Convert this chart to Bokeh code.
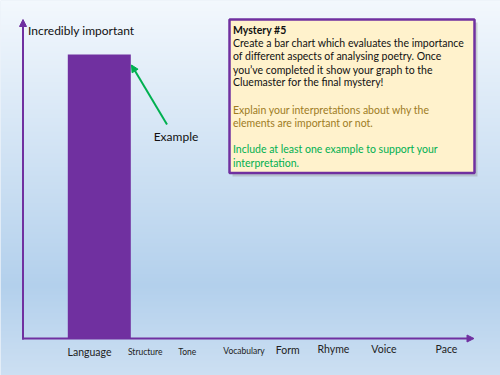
import numpy as np
from bokeh.plotting import figure
from bokeh.models import Range1d, Arrow, NormalHead
from bokeh.embed import file_html
from bokeh.resources import INLINE
from bokeh.core.properties import value

# ---------------- data ----------------
categories = ["Language", "Structure", "Tone", "Vocabulary", "Form", "Rhyme", "Voice", "Pace"]
importance = [1.0, 0, 0, 0, 0, 0, 0, 0]
y_title = "Incredibly important"
callout = "Example"
box_title = "Mystery #5"
box_black = [
    "Create a bar chart which evaluates the importance",
    "of different aspects of analysing poetry. Once",
    "you\u2019ve completed it show your graph to the",
    "Cluemaster for the final  mystery!",
]
box_olive = [
    "Explain your interpretations about why the",
    "elements  are important or not.",
]
box_green = [
    "Include at least one example to support your",
    "interpretation.",
]

# ---------------- layout (pixels) ----------------
W, H = 500, 375
Y0, Y1 = 338.0, 54.0          # pixel rows of value 0 and value 1
def py(pix):
    return (Y0 - pix) / (Y0 - Y1)

bar_x = [98.8, 144.7, 186.7, 243.5, 287.2, 333.0, 383.5, 446.0]
bar_w = 63
label_x = [89.0, 144.7, 186.7, 243.5, 287.2, 333.0, 383.5, 446.0]
label_y = [351, 351.5, 351.5, 350.5, 349, 348, 348, 348]
label_size = ["10.5px", "8.5px", "8.5px", "8.5px", "10.5px", "10.5px", "10.5px", "10.5px"]

PURPLE = "#7030A0"
GREEN = "#00B050"
OLIVE = "#9E7C1F"
FONT = value("Lato")

p = figure(width=W, height=H, x_range=Range1d(0, W), y_range=Range1d(py(H), py(0)),
           output_backend="svg", toolbar_location=None, min_border=0)
p.axis.visible = False
p.grid.visible = False
p.outline_line_color = None
p.background_fill_color = "#DCE8F5"
p.border_fill_color = "#DCE8F5"

# background gradient
stops = [(0, (243, 248, 253)), (285, (179, 208, 236)), (375, (204, 223, 242))]
img = np.empty((H, 1), dtype=np.uint32)
view = img.view(dtype=np.uint8).reshape((H, 1, 4))
for i in range(H):
    yy = H - i - 0.5
    for (a, ca), (b, cb) in zip(stops[:-1], stops[1:]):
        if a <= yy <= b:
            t = (yy - a) / (b - a)
            c = [int(round(ca[k] + (cb[k] - ca[k]) * t)) for k in range(3)]
            break
    view[i, 0, :] = [c[0], c[1], c[2], 255]
p.image_rgba(image=[img], x=0, y=py(H), dw=W, dh=py(0) - py(H))

# bars
p.vbar(x=bar_x, top=importance, bottom=0, width=bar_w, fill_color=PURPLE, line_color=None)

# axes with arrows
p.add_layout(Arrow(end=NormalHead(size=7, fill_color=PURPLE, line_color=PURPLE, line_width=1),
                   x_start=22.5, y_start=py(339), x_end=22.5, y_end=py(19),
                   line_color=PURPLE, line_width=2))
p.add_layout(Arrow(end=NormalHead(size=7, fill_color=PURPLE, line_color=PURPLE, line_width=1),
                   x_start=21.5, y_start=0, x_end=473.5, y_end=0,
                   line_color=PURPLE, line_width=2))

# category labels
p.text(x=label_x, y=[py(v) for v in label_y], text=categories, text_align="center",
       text_baseline="middle", text_font=FONT, text_font_size=label_size, text_color="#222222")

# y title
p.text(x=[27.5], y=[py(29.5)], text=[y_title], text_align="left", text_baseline="middle",
       text_font=FONT, text_font_size="12px", text_color="#111111")

# callout arrow
p.add_layout(Arrow(end=NormalHead(size=7, fill_color=GREEN, line_color=GREEN, line_width=1),
                   x_start=166.5, y_start=py(124), x_end=131, y_end=py(64.5),
                   line_color=GREEN, line_width=2))
p.text(x=[175.5], y=[py(135.5)], text=[callout], text_align="center", text_baseline="middle",
       text_font=FONT, text_font_size="12px", text_color="#111111")

# text box with shadow
p.quad(left=[232], right=[477], top=[py(22)], bottom=[py(176)], fill_color="#8a8a8a",
       fill_alpha=0.35, line_color=None)
p.quad(left=[229], right=[474], top=[py(19)], bottom=[py(172.5)], fill_color="#FFF2CC",
       line_color=PURPLE, line_width=2.5)

tx = 232.5
FS = "10.5px"
p.text(x=[tx], y=[py(29.5)], text=[box_title], text_baseline="middle", text_font=FONT,
       text_font_size=FS, text_font_style="bold", text_color="#111111")
p.text(x=[tx] * 4, y=[py(v) for v in [42.8, 55.5, 69, 81.8]], text=box_black,
       text_baseline="middle", text_font=FONT, text_font_size=FS, text_color="#111111")
p.text(x=[tx] * 2, y=[py(v) for v in [109.3, 122]], text=box_olive,
       text_baseline="middle", text_font=FONT, text_font_size=FS, text_color=OLIVE)
p.text(x=[tx] * 2, y=[py(v) for v in [148.5, 162.3]], text=box_green,
       text_baseline="middle", text_font=FONT, text_font_size=FS, text_color=GREEN)

open("out.html", "w").write(file_html(p, INLINE))
